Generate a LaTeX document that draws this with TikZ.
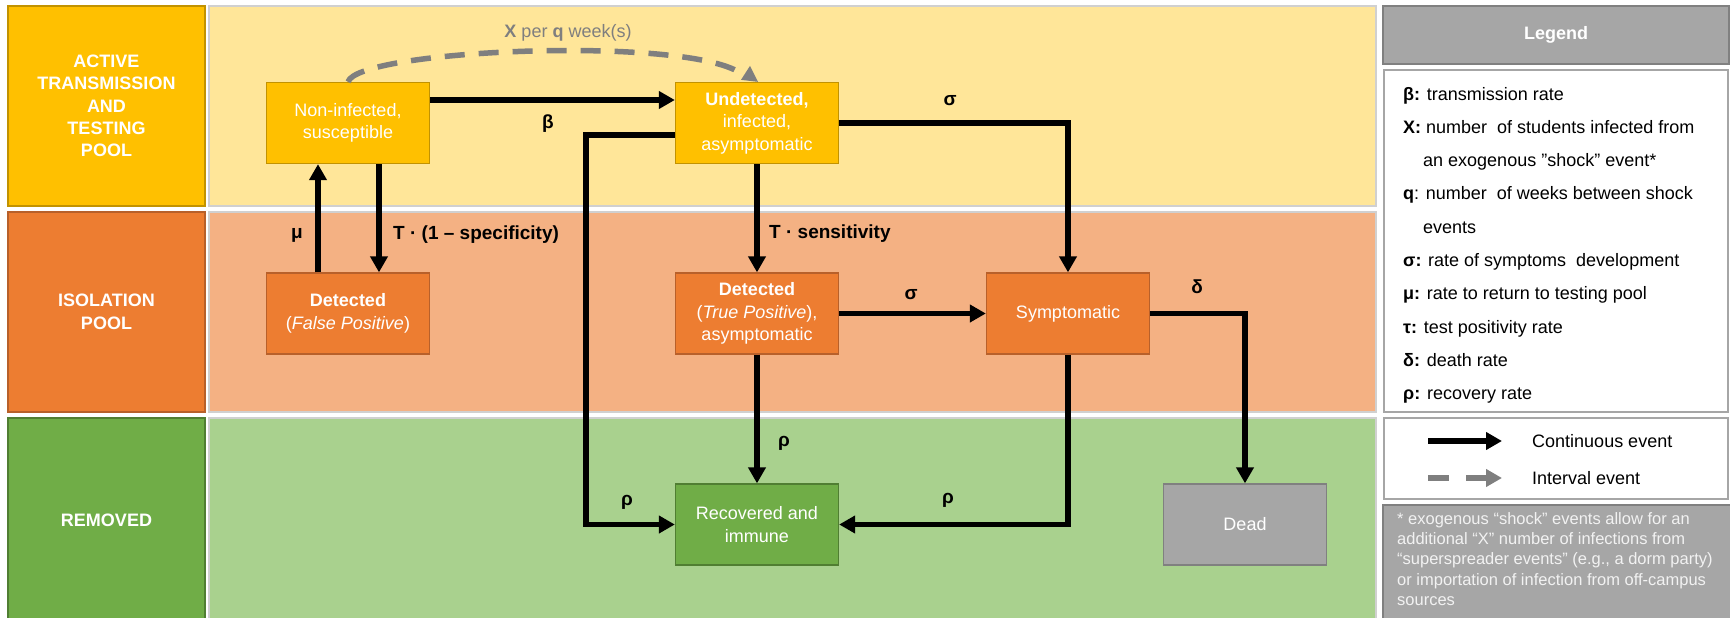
\documentclass[tikz,border=0pt]{standalone}
\usepackage{fontspec}
\setmainfont{Liberation Sans}
\usetikzlibrary{arrows.meta}

\definecolor{gold}{HTML}{FFC000}
\definecolor{golddark}{HTML}{C29200}
\definecolor{goldband}{HTML}{FFE699}
\definecolor{orng}{HTML}{ED7D31}
\definecolor{orngdark}{HTML}{B8602A}
\definecolor{orngband}{HTML}{F4B183}
\definecolor{grn}{HTML}{70AD47}
\definecolor{grndark}{HTML}{507E32}
\definecolor{grnband}{HTML}{A9D18E}
\definecolor{legray}{HTML}{A6A6A6}
\definecolor{legraydark}{HTML}{808080}
\definecolor{bandline}{HTML}{D0D0D0}
\definecolor{dashgray}{HTML}{7F7F7F}

\begin{document}
\begin{tikzpicture}[x=1pt,y=-1pt,
  every node/.style={font=\fontsize{18}{22.5}\selectfont},
  lanebox/.style={draw, line width=1.3pt, minimum width=197pt, minimum height=200pt,
    inner sep=0pt, align=center, text=white, font=\bfseries\fontsize{18}{22.4}\selectfont},
  box/.style={draw, line width=1.3pt, minimum width=163pt, minimum height=81pt,
    inner sep=0pt, align=center, text=white},
  flow/.style={line width=5.5pt, -{Triangle[length=16pt,width=17pt]}},
  shock/.style={line width=5.5pt, dashgray, dash pattern=on 20pt off 14pt},
  rate/.style={font=\bfseries\fontsize{19}{22}\selectfont},
  legtxt/.style={anchor=base west, inner sep=0pt}]

\useasboundingbox (0,0) rectangle (1730,618);

% lanes
\fill[goldband, draw=bandline, line width=1.2pt] (209,6) rectangle (1376,206);
\fill[orngband, draw=bandline, line width=1.2pt] (209,212) rectangle (1376,412);
\fill[grnband, draw=bandline, line width=1.2pt] (209,418) rectangle (1376,622);

\node[lanebox, fill=gold, draw=golddark] (laneActive) at (106.5,106) {ACTIVE\\TRANSMISSION\\AND\\TESTING\\POOL};
\node[lanebox, fill=orng, draw=orngdark] (laneIso) at (106.5,312) {ISOLATION\\POOL};
\node[lanebox, fill=grn, draw=grndark, minimum height=204pt] (laneRem) at (106.5,520) {REMOVED};

% compartments
\node[box, fill=gold, draw=golddark] (nonInf) at (348,123) {Non-infected,\\susceptible};
\node[box, fill=gold, draw=golddark] (undet) at (757,123) {\textbf{Undetected,}\\infected,\\asymptomatic};
\node[box, fill=orng, draw=orngdark] (detFP) at (348,313.5) {\textbf{Detected}\\(\textit{False Positive})};
\node[box, fill=orng, draw=orngdark] (detTP) at (757,313.5) {\textbf{Detected}\\(\textit{True Positive}),\\asymptomatic};
\node[box, fill=orng, draw=orngdark] (sympt) at (1068,313.5) {Symptomatic};
\node[box, fill=grn, draw=grndark] (recov) at (757,524.5) {Recovered and\\immune};
\node[box, fill=legray, draw=legraydark] (dead) at (1245,524.5) {Dead};

% shock event
\coordinate (shockEnd) at (737,71);
\draw[shock] (nonInf.north) .. controls (358,50) and (672,36) .. (shockEnd);
\fill[dashgray] ([xshift=-7pt,yshift=16pt]undet.north) -- ([xshift=-16pt,yshift=2pt]undet.north)
  -- ([xshift=1pt]undet.north) -- cycle;

% flows
\draw[flow] ([yshift=23pt]nonInf.east) -- ([yshift=23pt]undet.west);
\draw[flow] ([yshift=-12pt]undet.west) -- ++(-89,0) |- (recov.west);
\draw[flow] (undet.east) -| (sympt.north);
\draw[flow] (undet.south) -- (detTP.north);
\draw[flow] ([xshift=-30pt]detFP.north) -- ([xshift=-30pt]nonInf.south);
\draw[flow] ([xshift=31pt]nonInf.south) -- ([xshift=31pt]detFP.north);
\draw[flow] (detTP.east) -- (sympt.west);
\draw[flow] (sympt.east) -| (dead.north);
\draw[flow] (detTP.south) -- (recov.north);
\draw[flow] (sympt.south) |- (recov.east);

% rates
\node (lblShock) at (568,33) {\textcolor{dashgray}{\textbf{X} per \textbf{q} week(s)}};
\node[rate] (lblBeta) at (548,124) {β};
\node[rate] (lblRhoA) at (627,502) {ρ};
\node[rate] (lblSigA) at (950,101) {σ};
\node[rate, anchor=west, inner sep=0pt] (lblSens) at (769,234) {T · sensitivity};
\node[rate] (lblMu) at (297,235) {μ};
\node[rate, anchor=west, inner sep=0pt] (lblSpec) at (393,235) {T · (1 – specificity)};
\node[rate] (lblSigB) at (911,295) {σ};
\node[rate] (lblDelta) at (1197,287) {δ};
\node[rate] (lblRhoB) at (784,443) {ρ};
\node[rate] (lblRhoC) at (948,500) {ρ};

% legend
\node[fill=legray, draw=legraydark, line width=1.2pt, minimum width=346pt, minimum height=58pt,
  text=white, font=\bfseries\fontsize{18}{22}\selectfont] (legHead) at (1556,35) {Legend};
\draw[fill=white, draw=legray, line width=1.5pt] (1384,70) rectangle (1728,412);
\foreach \txt [count=\i] in {{\textbf{β:} transmission rate},
    {\textbf{X:} number\ \ of students infected from},
    {\hspace{20pt}an exogenous ”shock” event*},
    {\textbf{q}: number\ \ of weeks between shock},
    {\hspace{20pt}events},
    {\textbf{σ:} rate of symptoms\ \ development},
    {\textbf{μ:} rate to return to testing pool},
    {\textbf{τ:} test positivity rate},
    {\textbf{δ:} death rate},
    {\textbf{ρ:} recovery rate}}
  \node[legtxt] (leg\i) at (1403,66.7+33.3*\i) {\txt};

\draw[fill=white, draw=legray, line width=1.5pt] (1384,418) rectangle (1728,499);
\coordinate (contA) at (1428,441);
\coordinate (contB) at (1502,441);
\coordinate (intA) at (1428,478);
\coordinate (intB) at (1502,478);
\draw[flow] (contA) -- (contB);
\draw[shock, dash pattern=on 21pt off 17pt, -{Triangle[length=16pt,width=17pt]}] (intA) -- (intB);
\node[anchor=west, inner sep=0pt] (legCont) at (1532,441) {Continuous event};
\node[anchor=west, inner sep=0pt] (legInt) at (1532,478) {Interval event};

\fill[legray, draw=legraydark, line width=1.2pt] (1383,505) rectangle (1732,622);
\node[anchor=north west, inner sep=0pt, align=left, text=white!95!black,
  font=\fontsize{16.5}{20.4}\selectfont] (legNote) at (1397,512)
  {* exogenous “shock” events allow for an\\
   additional “X” number of infections from\\
   “superspreader events” (e.g., a dorm party)\\
   or importation of infection from off-campus\\
   sources};
\end{tikzpicture}
\end{document}
